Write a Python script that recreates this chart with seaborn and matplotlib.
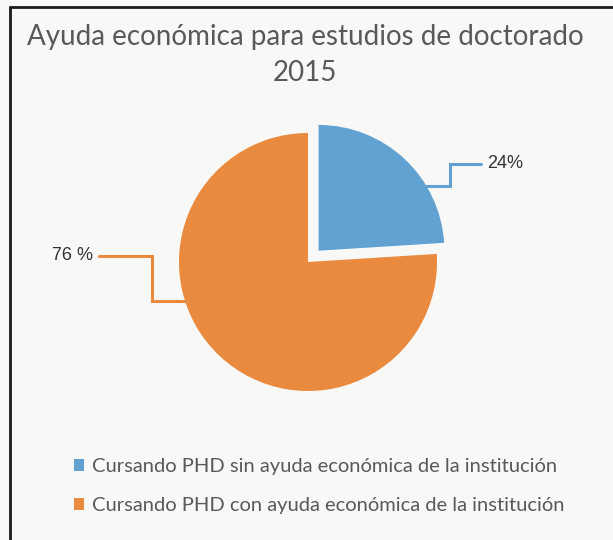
import numpy as np
import matplotlib
matplotlib.use("Agg")
import matplotlib.pyplot as plt
import seaborn as sns
from matplotlib.lines import Line2D

# data
categories = [
    "Cursando PHD sin ayuda económica de la institución",
    "Cursando PHD con ayuda económica de la institución",
]
shares = [24, 76]
value_labels = ["24%", "76 %"]
colors = ["#62a2d3", "#ea8a3e"]
title = "Ayuda económica para estudios de doctorado\n2015"

sns.set_theme(style="white")
plt.rcParams["font.family"] = ["Lato", "DejaVu Sans"]

bg = "#f8f8f7"
fig = plt.figure(figsize=(6.13, 5.40), dpi=100, facecolor=bg)
ax = fig.add_axes([0, 0, 1, 1])
ax.set_facecolor(bg)

explode = [0.12, 0.0]
wedges, _ = ax.pie(shares, colors=sns.color_palette(colors), startangle=90,
                   counterclock=False, explode=explode, radius=1.0,
                   wedgeprops=dict(linewidth=0))
wedges[0].set_radius(0.975)

# put the pie where it sits in the picture (129 px radius, centre at 308,262)
r_px = 129.0
ax.set_xlim(-308 / r_px, (613 - 308) / r_px)
ax.set_ylim(-(540 - 262) / r_px, 262 / r_px)
ax.set_aspect("auto")
ax.axis("off")

# leader lines: anchor on the arc, elbow, then out to the label
label_specs = [
    # angle on wedge, elbow x, label y, label x, ha
    (31, 1.10, 0.76, 1.39, "left"),
    (197.5, -1.21, 0.05, -1.67, "right"),
]
for w, txt, (ang, ex, ly, lx, ha) in zip(wedges, value_labels, label_specs):
    cx, cy = w.center
    a = np.deg2rad(ang)
    x0, y0 = cx + w.r * np.cos(a), cy + w.r * np.sin(a)
    xs = [x0, ex, ex, lx - 0.05 if ha == "left" else lx + 0.05]
    ys = [y0, y0, ly, ly]
    ax.plot(xs, ys, color=w.get_facecolor(), lw=2.2, solid_joinstyle="miter",
            clip_on=False)
    ax.text(lx, ly, txt, ha=ha, va="center", fontsize=13, color="#333333",
            family=["Liberation Sans", "DejaVu Sans"])

fig.text(0.4976, 0.955, title, ha="center", va="top", fontsize=20,
         color="#595959", linespacing=1.45)

fig.legend(wedges, categories, loc="upper left", bbox_to_anchor=(0.120, 0.152),
           frameon=False, fontsize=14.5, handlelength=0.5, handleheight=0.5,
           handletextpad=0.4, labelspacing=1.1, labelcolor="#595959",
           borderaxespad=0, borderpad=0)

# the dark frame that shows on the top and left edge
fig.add_artist(Line2D([10 / 613, 1], [1 - 7 / 540, 1 - 7 / 540],
                      transform=fig.transFigure, color="#1a1a1a", lw=2))
fig.add_artist(Line2D([10 / 613, 10 / 613], [0, 1 - 7 / 540],
                      transform=fig.transFigure, color="#1a1a1a", lw=2))

fig.savefig("out.png", dpi=100, facecolor=bg)
